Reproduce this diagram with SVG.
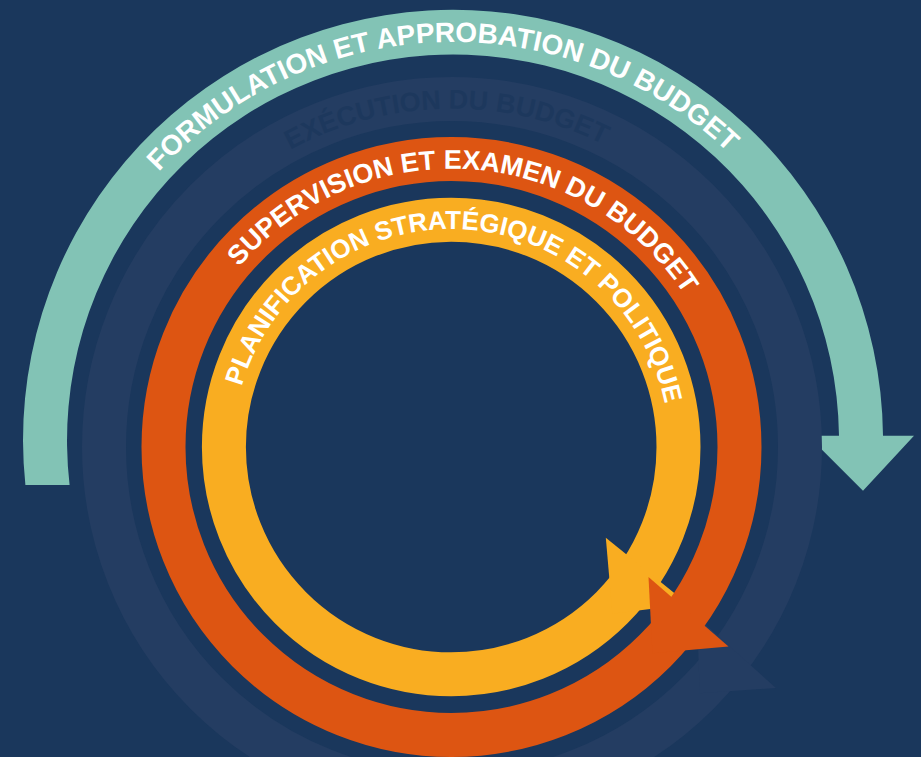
<svg xmlns="http://www.w3.org/2000/svg" width="921" height="757" viewBox="0 0 921 757">
  <defs>
    <style>
      .lbl { font-family: "Liberation Sans", Arial, sans-serif; font-weight: bold; fill: #ffffff; }
      .faint-lbl { fill: #1d385d; }
      .ring { fill: none; stroke-width: 44; }
    </style>
    <path id="p-teal" d="M 55,440 A 398 398 0 0 1 851,440"/>
    <path id="p-faint" d="M 113.7,447 A 338.3 338.3 0 0 1 790.3,447"/>
    <path id="p-orange" d="M 173.2,447 A 278.3 278.3 0 0 1 729.8,447"/>
    <path id="p-yellow" d="M 233.2,447 A 218 218 0 0 1 669.2,447"/>
    <polygon id="head" points="-53,0 53,0 0,55"/>
  </defs>
  <rect width="921" height="757" fill="#1a375c"/>

  <g id="formulation">
    <path fill="#82c3b5" d="M 25.4,485 A 430 430 0 1 1 883,435.7 L 914,435.7 L 863,490.7 L 808,435.7 L 839,435.7 A 386 386 0 1 0 69.6,485 Z"/>
    <text class="lbl" font-size="28"><textPath href="#p-teal" startOffset="611.3" text-anchor="middle">FORMULATION ET APPROBATION DU BUDGET</textPath></text>
  </g>

  <g id="execution">
    <circle class="ring" cx="452" cy="447" r="348" stroke="#243d62"/>
    <use href="#head" fill="#243d62" transform="translate(736.5,652.5) rotate(42)"/>
    <text class="lbl faint-lbl" font-size="27"><textPath href="#p-faint" startOffset="525.5" text-anchor="middle">EXÉCUTION DU BUDGET</textPath></text>
  </g>

  <g id="planification">
    <circle class="ring" cx="451.2" cy="447" r="227.3" stroke="#f9ad21"/>
    <use href="#head" fill="#f9ad21" transform="translate(647,571) rotate(39)"/>
    <text class="lbl" font-size="26"><textPath href="#p-yellow" startOffset="351.2" text-anchor="middle">PLANIFICATION STRATÉGIQUE ET POLITIQUE</textPath></text>
  </g>

  <g id="supervision">
    <circle class="ring" cx="451.5" cy="447" r="288" stroke="#dd5512"/>
    <use href="#head" fill="#dd5512" transform="translate(688.5,611.8) rotate(41)"/>
    <text class="lbl" font-size="27"><textPath href="#p-orange" startOffset="454.2" text-anchor="middle">SUPERVISION ET EXAMEN DU BUDGET</textPath></text>
  </g>

  <g id="connectors"></g>
</svg>
